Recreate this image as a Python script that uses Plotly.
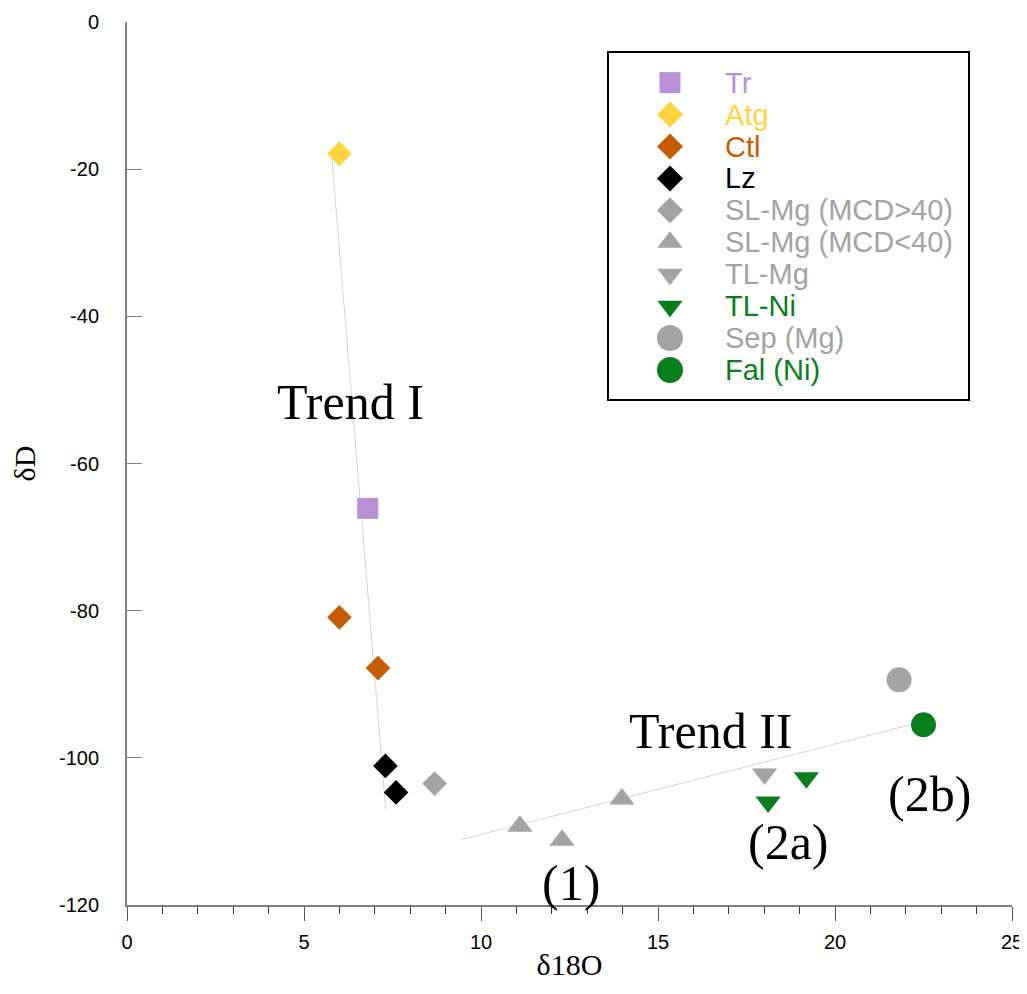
import plotly.graph_objects as go

# ---- data ----
series_names = ["Tr", "Atg", "Ctl", "Lz", "SL-Mg (MCD>40)", "SL-Mg (MCD<40)",
                "TL-Mg", "TL-Ni", "Sep (Mg)", "Fal (Ni)"]
series_colors = ["#b98fd6", "#fdd43e", "#c55c02", "#000000", "#a3a3a3", "#a3a3a3",
                 "#a3a3a3", "#0a7d1c", "#a3a3a3", "#0a7d1c"]
series_symbols = ["square", "diamond", "diamond", "diamond", "diamond", "triangle-up",
                  "triangle-down", "triangle-down", "circle", "circle"]
series_sizes = [21, 19, 19, 19, 19, 22, 22, 22, 25, 25]

tr_x = [6.80];               tr_y = [-66.1]
atg_x = [6.00];              atg_y = [-17.9]
ctl_x = [6.00, 7.09];        ctl_y = [-80.9, -87.8]
lz_x = [7.30, 7.60];         lz_y = [-101.1, -104.7]
slmg_hi_x = [8.69];          slmg_hi_y = [-103.5]
slmg_lo_x = [11.10, 12.29, 13.98]; slmg_lo_y = [-109.3, -111.2, -105.6]
tlmg_x = [18.01];            tlmg_y = [-102.2]
tlni_x = [18.11, 19.19];     tlni_y = [-106.0, -102.7]
sep_x = [21.81];             sep_y = [-89.4]
fal_x = [22.50];             fal_y = [-95.5]

series_x = [tr_x, atg_x, ctl_x, lz_x, slmg_hi_x, slmg_lo_x, tlmg_x, tlni_x, sep_x, fal_x]
series_y = [tr_y, atg_y, ctl_y, lz_y, slmg_hi_y, slmg_lo_y, tlmg_y, tlni_y, sep_y, fal_y]

trend1_x = [5.78, 7.31];   trend1_y = [-18.1, -107.1]
trend2_x = [9.45, 22.54];  trend2_y = [-111.1, -95.0]

label_texts = ["Trend I", "Trend II", "(1)", "(2a)", "(2b)"]
label_x = [6.30, 16.47, 12.54, 18.69, 22.68]
label_y = [-51.6, -96.3, -117.0, -111.4, -104.9]

x_ticks = [0, 5, 10, 15, 20, 25]
x_tick_labels = ["0", "5", "10", "15", "20", "25"]
y_ticks = [0, -20, -40, -60, -80, -100, -120]
y_tick_labels = ["0", "-20", "-40", "-60", "-80", "-100", "-120"]

SERIF = "Liberation Serif, Times New Roman, serif"
SANS = "Liberation Sans, Arial, sans-serif"

fig = go.Figure()

# trend lines
for tx, ty in [(trend1_x, trend1_y), (trend2_x, trend2_y)]:
    fig.add_trace(go.Scatter(x=tx, y=ty, mode="lines",
                             line=dict(color="#d4d4d4", width=1),
                             showlegend=False, hoverinfo="skip"))

# data points
for name, col, sym, sz, xs, ys in zip(series_names, series_colors, series_symbols,
                                      series_sizes, series_x, series_y):
    fig.add_trace(go.Scatter(x=xs, y=ys, mode="markers", name=name,
                             marker=dict(symbol=sym, color=col, size=sz,
                                         line=dict(width=0)),
                             showlegend=False))

# custom legend drawn on an overlay axis pair (one row per series)
legend_rows = list(range(len(series_names)))
legend_sizes = [21, 20, 20, 20, 20, 22, 22, 22, 26, 26]
for i, (name, col, sym) in enumerate(zip(series_names, series_colors, series_symbols)):
    fig.add_trace(go.Scatter(x=[0.1717], y=[legend_rows[i]], mode="markers",
                             xaxis="x2", yaxis="y2",
                             marker=dict(symbol=sym, color=col, size=legend_sizes[i],
                                         line=dict(width=0)),
                             showlegend=False, hoverinfo="skip"))
    fig.add_annotation(x=0.3186, y=legend_rows[i], xref="x2", yref="y2",
                       text=name, showarrow=False, xanchor="left", yanchor="middle",
                       font=dict(family=SANS, size=29, color=col))

# text labels
for t, lx, ly in zip(label_texts, label_x, label_y):
    fig.add_annotation(x=lx, y=ly, text=t, showarrow=False,
                       xanchor="center", yanchor="middle",
                       font=dict(family=SERIF, size=50, color="black"))

# page has an 8px body margin: compensate so the plot lands where the reference has it
OFF = 8
W, H = 1027 - OFF, 994 - 2 * OFF
L = 127 - OFF
T = 22 - OFF
R = OFF + W - 1012
B = OFF + H - 905
pw, ph = W - L - R, H - T - B
box_l, box_r, box_t, box_b = 608 - OFF, 969 - OFF, 52 - OFF, 400 - OFF
bx0 = (box_l - L) / pw
bx1 = (box_r - L) / pw
by1 = (H - B - box_t) / ph
by0 = (H - B - box_b) / ph

fig.add_shape(type="rect", xref="paper", yref="paper", x0=bx0, x1=bx1, y0=by0, y1=by1,
              line=dict(color="black", width=2), fillcolor="rgba(0,0,0,0)")

fig.update_layout(
    width=W, height=H,
    margin=dict(l=L, r=R, t=T, b=B, autoexpand=False),
    plot_bgcolor="white", paper_bgcolor="white",
    showlegend=False,
    xaxis=dict(range=[0, 25], tickvals=x_ticks, ticktext=x_tick_labels,
               ticks="outside", ticklen=14,
               tickwidth=1, tickcolor="#555555",
               showline=True, linecolor="#7f7f7f", linewidth=2,
               showgrid=False, zeroline=False, automargin=False,
               minor=dict(dtick=1, ticks="outside", ticklen=7, tickcolor="#333333",
                          tickwidth=1, showgrid=False),
               tickfont=dict(family=SANS, size=20, color="black"),
               ticklabelstandoff=4,
               title=dict(text="δ18O", font=dict(family=SERIF, size=30, color="black"),
                          standoff=2)),
    yaxis=dict(range=[-120, 0], tickvals=y_ticks, ticktext=y_tick_labels,
               ticks="inside", ticklen=15,
               tickwidth=1, tickcolor="#7f7f7f",
               showline=True, linecolor="#7f7f7f", linewidth=2,
               showgrid=False, zeroline=False, automargin=False,
               tickfont=dict(family=SANS, size=20, color="black"),
               ticklabelstandoff=22,
               title=dict(text="δD", font=dict(family=SERIF, size=30, color="black"),
                          standoff=18)),
    xaxis2=dict(domain=[bx0, bx1], range=[0, 1], visible=False, anchor="y2",
                fixedrange=True),
    yaxis2=dict(domain=[by0, by1], range=[9.94, -0.96], visible=False, anchor="x2",
                fixedrange=True),
)

fig.write_html("out.html")
